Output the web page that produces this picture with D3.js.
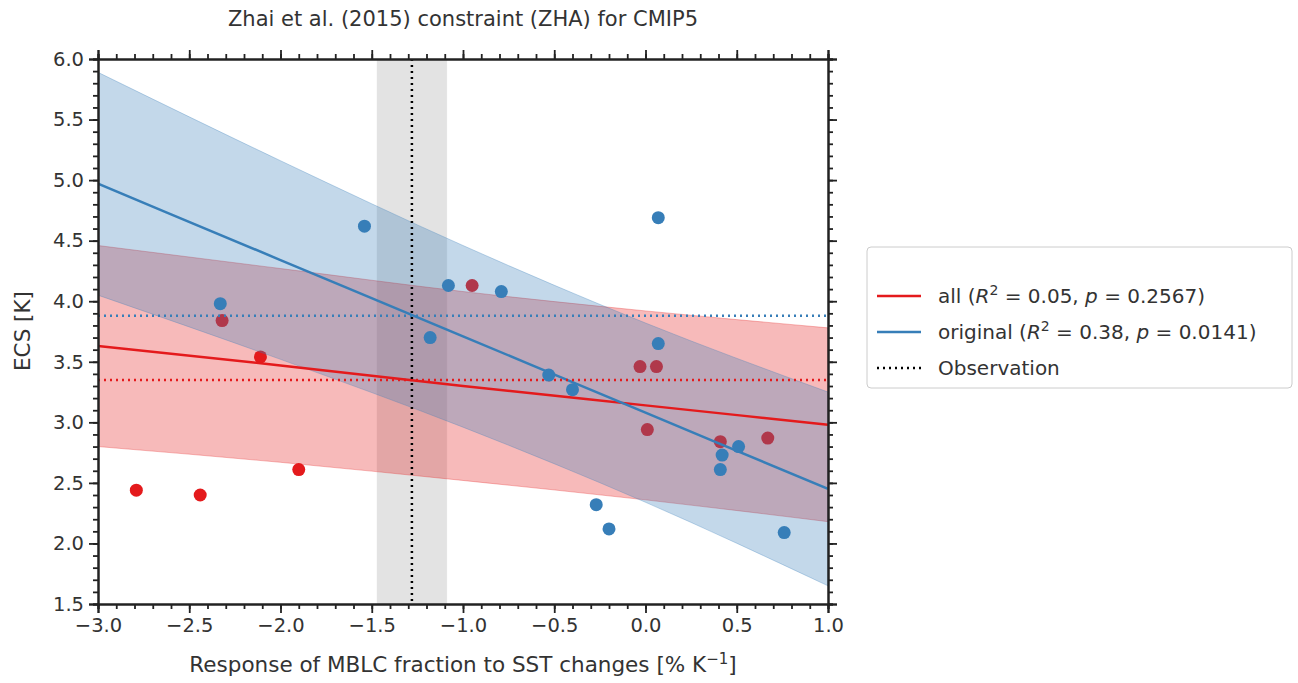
<!DOCTYPE html><html><head><meta charset="utf-8">
<script src="https://cdn.jsdelivr.net/npm/d3@7"></script>
<style>body{margin:0;background:#fff;font-family:"DejaVu Sans",sans-serif}</style></head><body>
<svg id="c" width="1298" height="683"></svg>
<script>
const redX=[-2.79,-2.44,-1.90,-2.11,-2.32,-0.95,-0.03,0.06,0.01,0.41,0.67];
const redY=[2.44,2.40,2.61,3.54,3.84,4.13,3.46,3.46,2.94,2.84,2.87];
const blueX=[-2.33,-1.54,-1.08,-0.79,-1.18,-0.53,-0.40,-0.27,-0.20,0.07,0.07,0.42,0.51,0.41,0.76];
const blueY=[3.98,4.62,4.13,4.08,3.70,3.39,3.27,2.32,2.12,4.69,3.65,2.73,2.80,2.61,2.09];
const bandX=[-3,-2,-1,0,1];
const blueFit=[4.97,4.34,3.71,3.08,2.45],blueUp=[5.89,5.16,4.46,3.82,3.25],blueLo=[4.05,3.52,2.96,2.34,1.65];
const redFit=[3.63,3.47,3.30,3.14,2.98],redUp=[4.46,4.27,4.08,3.92,3.78],redLo=[2.80,2.67,2.52,2.36,2.18];
const obs=-1.28,obsLo=-1.47,obsHi=-1.09,blueC=3.88,redC=3.35;
const RED="#e41a1c",BLUE="#377eb8";
const svg=d3.select("#c");
const x=d3.scaleLinear([-3,1],[98,828]),y=d3.scaleLinear([1.5,6],[604,59]);
const g=svg.append("g");
g.append("defs").append("clipPath").attr("id","cp").append("rect").attr("x",98).attr("y",59).attr("width",730).attr("height",545);
const p=g.append("g").attr("clip-path","url(#cp)");
const area=(lo,up)=>d3.area().x((d,i)=>x(bandX[i])).y0((d,i)=>y(lo[i])).y1((d,i)=>y(up[i])).curve(d3.curveMonotoneX)(bandX);
const line=v=>d3.line().x((d,i)=>x(bandX[i])).y((d,i)=>y(v[i])).curve(d3.curveMonotoneX)(bandX);
p.append("rect").attr("x",x(obsLo)).attr("width",x(obsHi)-x(obsLo)).attr("y",59).attr("height",545).attr("fill","#bbb").attr("opacity",0.4).attr("stroke","#999").attr("stroke-opacity",0.4);
p.append("path").attr("d",area(redLo,redUp)).attr("fill",RED).attr("fill-opacity",0.3).attr("stroke",RED).attr("stroke-opacity",0.3);
p.selectAll(".rp").data(redX).join("circle").attr("cx",d=>x(d)).attr("cy",(d,i)=>y(redY[i])).attr("r",6.5).attr("fill",RED);
p.append("path").attr("d",area(blueLo,blueUp)).attr("fill",BLUE).attr("fill-opacity",0.3).attr("stroke",BLUE).attr("stroke-opacity",0.3);
p.append("path").attr("d",line(redFit)).attr("fill","none").attr("stroke",RED).attr("stroke-width",2.5);
p.append("path").attr("d",line(blueFit)).attr("fill","none").attr("stroke",BLUE).attr("stroke-width",2.5);
p.append("line").attr("x1",98).attr("x2",828).attr("y1",y(blueC)).attr("y2",y(blueC)).attr("stroke",BLUE).attr("stroke-width",2.5).attr("stroke-dasharray","2,4");
p.append("line").attr("x1",98).attr("x2",828).attr("y1",y(redC)).attr("y2",y(redC)).attr("stroke",RED).attr("stroke-width",2.5).attr("stroke-dasharray","2,4");
p.append("line").attr("x1",x(obs)).attr("x2",x(obs)).attr("y1",59).attr("y2",604).attr("stroke","#000").attr("stroke-width",2.5).attr("stroke-dasharray","2,4");
p.selectAll(".bp").data(blueX).join("circle").attr("cx",d=>x(d)).attr("cy",(d,i)=>y(blueY[i])).attr("r",6.5).attr("fill",BLUE);
const f1=d3.format(".1f");
const xt=d3.range(-3,1.01,0.5),yt=d3.range(1.5,6.01,0.5);
const xm=d3.range(-3,1.001,0.1),ym=d3.range(1.5,6.001,0.1);
const st=s=>s.call(g=>{g.select(".domain").attr("stroke","#222").attr("stroke-width",2);g.selectAll(".tick line").attr("stroke","#222").attr("stroke-width",1.8);g.selectAll("text").attr("font-family","DejaVu Sans").attr("font-size",19.5).attr("fill","#333")});
const mk=(axis,tr,vals,len,lab)=>{const a=axis.tickValues(vals).tickSize(len).tickPadding(5).tickFormat(lab?(d=>f1(d).replace("-","\u2212")):"");g.append("g").attr("transform",tr).call(a).call(st);};
mk(d3.axisBottom(x),"translate(0,604)",xm,5,false);mk(d3.axisBottom(x),"translate(0,604)",xt,9,true);
mk(d3.axisTop(x),"translate(0,59)",xm,5,false);mk(d3.axisTop(x),"translate(0,59)",xt,9,false);
mk(d3.axisLeft(y),"translate(98,0)",ym,5,false);mk(d3.axisLeft(y),"translate(98,0)",yt,9,true);
mk(d3.axisRight(y),"translate(828,0)",ym,5,false);mk(d3.axisRight(y),"translate(828,0)",yt,9,false);
svg.append("text").attr("x",463).attr("y",26).attr("text-anchor","middle").attr("font-size",21).attr("fill","#333").text("Zhai et al. (2015) constraint (ZHA) for CMIP5");
const xl=svg.append("text").attr("x",463).attr("y",672).attr("text-anchor","middle").attr("font-size",21.5).attr("fill","#333");
xl.append("tspan").text("Response of MBLC fraction to SST changes [% K");xl.append("tspan").attr("dy",-8).attr("font-size",15).text("\u22121");xl.append("tspan").attr("dy",8).text("]");
svg.append("text").attr("transform","translate(30,331) rotate(-90)").attr("text-anchor","middle").attr("font-size",21.5).attr("fill","#333").text("ECS [K]");
const lg=svg.append("g");
lg.append("rect").attr("x",867).attr("y",247).attr("width",425).attr("height",141).attr("rx",4).attr("fill","#fff").attr("stroke","#ccc");
const items=[["all",RED,"0.05","0.2567",null],["original",BLUE,"0.38","0.0141",null],["Observation","#000",null,null,"2,4"]];
items.forEach((it,i)=>{const yy=296+i*36;
lg.append("line").attr("x1",877).attr("x2",921).attr("y1",yy).attr("y2",yy).attr("stroke",it[1]).attr("stroke-width",2.5).attr("stroke-dasharray",it[4]);
const t=lg.append("text").attr("x",938).attr("y",yy+7).attr("font-size",20).attr("fill","#333");
if(it[2]){t.append("tspan").text(it[0]+" (");t.append("tspan").attr("font-style","italic").text("R");t.append("tspan").attr("dy",-8).attr("font-size",14).text("2");
t.append("tspan").attr("dy",8).text(" = "+it[2]+", ");t.append("tspan").attr("font-style","italic").text("p");t.append("tspan").text(" = "+it[3]+")");}
else t.text(it[0]);});
</script></body></html>
